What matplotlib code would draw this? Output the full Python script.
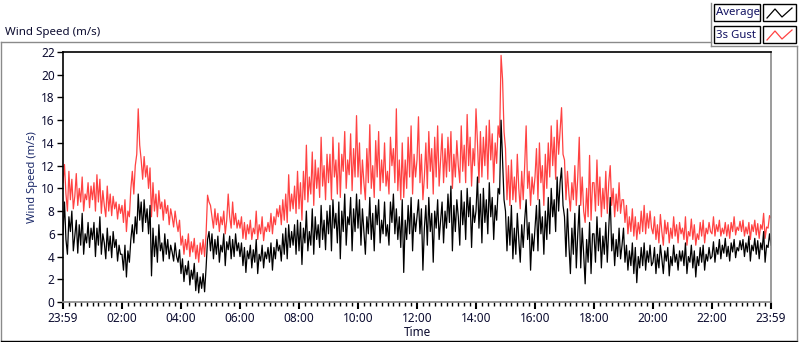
"""
Daily wind speed chart: average and 3 s gust, one sample every 3 minutes.
"""

import matplotlib

matplotlib.use("Agg")
import matplotlib.pyplot as plt
from matplotlib.lines import Line2D
from matplotlib.patches import Rectangle
import numpy as np

STEP_MIN = 3

AVERAGE = [
    6.0, 8.8, 5.5, 4.2, 7.5, 6.2, 8.0, 4.5, 5.8, 7.2,
    4.3, 6.8, 5.0, 7.8, 4.2, 6.0, 5.2, 7.0, 4.8, 6.5,
    5.5, 7.0, 4.0, 6.5, 5.0, 7.5, 4.2, 6.0, 5.2, 3.8,
    6.5, 4.5, 5.8, 3.9, 6.2, 4.8, 5.5, 3.6, 5.0, 4.2,
    4.2, 2.8, 5.0, 2.2, 4.5, 3.5, 5.5, 6.8, 5.2, 7.5,
    6.0, 9.5, 7.2, 8.8, 6.2, 9.0, 7.0, 8.2, 6.0, 8.5,
    2.3, 6.5, 4.0, 5.8, 3.5, 6.8, 4.5, 5.2, 3.6, 6.0,
    4.2, 5.5, 3.8, 5.0, 4.4, 3.6, 5.2, 4.0, 3.5, 4.6,
    2.5, 3.8, 1.8, 3.2, 2.4, 3.6, 1.5, 2.8, 2.0, 3.4,
    1.0, 2.6, 0.8, 2.2, 1.2, 2.5, 0.9, 3.0, 5.5, 6.2,
    4.5, 6.0, 3.8, 5.5, 4.2, 5.8, 3.5, 5.0, 4.4, 6.0,
    3.2, 5.3, 4.6, 5.8, 3.8, 5.5, 4.0, 6.0, 4.5, 5.2,
    4.0, 5.2, 3.2, 4.8, 2.6, 4.5, 3.8, 5.0, 3.0, 4.6,
    3.5, 5.5, 2.5, 4.2, 3.6, 5.0, 3.0, 4.4, 3.8, 4.8,
    3.5, 5.2, 2.8, 4.8, 3.8, 5.5, 4.5, 5.0, 3.6, 6.0,
    4.2, 6.5, 3.8, 6.8, 4.8, 6.2, 5.0, 6.8, 4.2, 7.2,
    4.5, 7.0, 3.3, 6.5, 5.2, 8.0, 4.5, 6.2, 5.0, 8.2,
    4.2, 7.5, 5.5, 6.8, 4.8, 8.5, 5.5, 7.2, 4.6, 8.0,
    6.0, 8.5, 4.5, 9.0, 6.5, 7.8, 5.2, 8.8, 3.8, 8.0,
    6.2, 9.5, 5.0, 7.5, 6.8, 9.2, 4.5, 8.2, 6.2, 9.5,
    6.5, 9.0, 5.0, 8.2, 6.2, 4.2, 7.5, 6.0, 9.2, 5.5,
    7.8, 4.5, 8.5, 6.8, 9.0, 5.2, 7.2, 6.0, 8.8, 5.8,
    6.8, 5.0, 8.8, 7.0, 9.5, 6.0, 8.2, 5.5, 7.5, 4.8,
    9.0, 2.6, 7.2, 5.5, 8.5, 6.0, 9.2, 4.5, 7.8, 6.2,
    7.5, 9.0, 6.0, 8.2, 2.8, 6.5, 8.5, 5.0, 9.2, 6.2,
    7.8, 3.5, 8.0, 6.5, 9.0, 5.5, 7.2, 8.8, 5.2, 8.0,
    6.5, 9.5, 7.0, 10.2, 4.5, 8.5, 6.2, 9.0, 7.5, 5.0,
    9.8, 6.8, 8.8, 5.5, 10.0, 7.5, 9.2, 4.8, 8.5, 7.0,
    8.0, 11.0, 6.5, 9.5, 5.2, 10.0, 7.0, 9.0, 6.0, 10.5,
    7.5, 9.2, 5.5, 8.5, 7.2, 10.0, 9.5, 16.0, 12.5, 9.0,
    8.0, 4.5, 7.5, 5.0, 8.5, 3.8, 6.5, 4.2, 7.8, 5.5,
    3.5, 6.8, 4.8, 7.2, 9.0, 5.5, 7.0, 2.8, 6.0, 4.5,
    6.5, 8.5, 4.5, 9.0, 6.0, 7.5, 4.2, 8.0, 5.5, 9.2,
    6.0, 10.0, 7.5, 9.0, 6.2, 11.0, 8.0, 10.5, 11.8, 8.5,
    7.5, 4.0, 8.2, 5.0, 2.5, 6.5, 4.2, 7.8, 3.0, 6.0,
    8.5, 3.0, 6.5, 4.2, 1.6, 5.5, 3.5, 7.0, 2.5, 6.0,
    6.0, 3.5, 7.5, 4.5, 6.5, 3.0, 5.8, 4.2, 7.0, 3.5,
    6.5, 9.2, 4.5, 6.0, 3.2, 5.5, 4.0, 6.5, 3.8, 5.0,
    6.5, 3.5, 5.0, 2.8, 4.5, 3.2, 5.2, 2.5, 4.8, 1.7,
    4.0, 3.0, 4.8, 3.2, 5.2, 2.8, 4.5, 3.5, 5.0, 3.2,
    3.5, 4.8, 2.5, 4.2, 3.0, 5.0, 3.8, 2.5, 4.5, 3.6,
    4.8, 2.3, 4.0, 3.2, 5.0, 3.5, 4.2, 2.8, 4.5, 3.6,
    4.5, 3.2, 5.2, 2.5, 4.0, 3.5, 5.0, 3.0, 4.5, 2.2,
    4.0, 3.2, 4.8, 3.5, 5.0, 2.8, 4.2, 3.6, 4.8, 3.8,
    4.0, 5.3, 3.5, 4.8, 4.2, 5.5, 3.8, 5.0, 4.3, 5.6,
    4.0, 4.9, 3.6, 5.2, 4.4, 5.5, 3.9, 4.8, 4.5, 5.4,
    4.6, 5.5, 4.0, 5.2, 4.4, 5.8, 3.6, 5.0, 4.5, 5.6,
    4.2, 5.4, 3.8, 5.2, 4.6, 6.2, 3.5, 5.0, 4.8, 6.0,
    5.0,
]

GUST = [
    10.5, 12.1, 9.5, 8.0, 11.5, 9.0, 10.8, 8.2, 9.3, 11.3,
    8.5, 10.0, 8.8, 11.0, 8.0, 9.5, 9.0, 10.5, 8.3, 10.2,
    9.0, 10.5, 8.0, 11.2, 8.8, 10.8, 7.8, 9.8, 8.5, 7.5,
    10.2, 8.0, 9.5, 7.6, 9.3, 8.2, 8.8, 7.3, 8.6, 7.8,
    8.5, 7.0, 9.0, 6.2, 8.0, 7.5, 10.0, 11.5, 9.5, 12.0,
    13.0, 17.0, 13.8, 12.5, 10.8, 12.8, 11.0, 12.0, 10.0, 11.8,
    7.5, 10.5, 8.0, 9.5, 7.5, 9.8, 8.2, 8.8, 7.2, 9.0,
    7.8, 8.5, 6.8, 8.2, 7.5, 6.6, 8.0, 7.0, 6.2, 7.2,
    5.0, 5.8, 4.2, 5.5, 4.6, 6.0, 4.0, 5.3, 4.4, 5.6,
    3.8, 5.0, 3.5, 5.2, 4.2, 5.5, 4.0, 6.0, 9.4, 8.8,
    8.5, 7.5, 6.5, 8.2, 6.8, 7.8, 6.2, 7.5, 6.8, 8.0,
    6.0, 7.2, 9.5, 7.5, 6.5, 8.8, 6.8, 7.8, 6.5, 7.2,
    6.5, 7.5, 5.6, 7.0, 5.5, 6.8, 6.0, 7.2, 5.5, 6.5,
    6.0, 8.0, 5.5, 6.8, 6.0, 7.5, 5.4, 6.6, 6.2, 7.0,
    6.2, 7.8, 6.0, 7.5, 6.8, 8.2, 7.5, 8.5, 6.8, 9.0,
    7.2, 9.5, 7.0, 11.2, 8.0, 9.5, 8.2, 10.2, 7.8, 11.5,
    8.2, 10.5, 7.2, 11.5, 9.0, 13.8, 8.8, 11.0, 9.5, 13.2,
    8.5, 12.5, 10.0, 11.8, 9.2, 14.5, 10.2, 12.0, 9.0, 13.0,
    10.5, 13.0, 9.0, 14.5, 11.0, 12.5, 9.5, 14.0, 9.2, 13.0,
    11.5, 15.0, 10.0, 12.5, 11.2, 14.8, 9.8, 13.5, 11.0, 16.4,
    11.0, 14.0, 9.5, 12.5, 10.5, 9.0, 13.5, 10.5, 15.6, 10.0,
    12.0, 9.2, 14.2, 11.0, 15.0, 9.8, 12.5, 10.5, 14.0, 10.2,
    11.5, 9.5, 14.5, 12.0, 13.5, 10.5, 17.0, 9.8, 12.5, 9.0,
    14.0, 9.2, 12.5, 10.0, 14.5, 11.0, 15.5, 9.5, 13.0, 11.0,
    12.5, 16.3, 10.5, 13.0, 9.0, 11.0, 14.0, 10.0, 15.0, 11.5,
    13.5, 9.5, 14.5, 11.0, 15.5, 10.2, 12.5, 14.8, 10.5, 13.5,
    11.0, 14.5, 11.5, 15.0, 10.0, 13.0, 11.0, 14.2, 12.0, 10.5,
    15.5, 11.5, 13.8, 10.5, 16.5, 12.0, 14.5, 10.2, 13.5, 12.0,
    17.0, 14.0, 10.5, 15.0, 11.0, 14.5, 12.0, 15.5, 10.8, 16.0,
    12.5, 14.8, 10.5, 14.0, 12.2, 15.5, 14.5, 21.7, 19.6, 15.0,
    13.5, 9.0, 12.0, 8.5, 12.5, 9.0, 11.0, 8.8, 13.0, 10.0,
    8.2, 11.5, 9.0, 12.0, 15.5, 10.0, 11.5, 8.5, 11.0, 9.5,
    11.0, 13.5, 9.0, 14.0, 10.5, 12.0, 8.5, 13.0, 10.0, 14.0,
    11.0, 15.5, 12.0, 14.5, 10.8, 16.0, 13.0, 15.0, 17.1, 13.0,
    12.5, 9.0, 11.5, 9.5, 8.0, 10.5, 9.0, 12.0, 8.5, 11.0,
    14.5, 8.5, 11.0, 8.0, 7.0, 10.0, 7.5, 12.9, 7.2, 10.5,
    10.5, 8.0, 12.5, 8.5, 11.0, 7.5, 10.0, 8.2, 11.5, 7.8,
    10.5, 12.0, 8.5, 10.0, 7.5, 9.5, 8.0, 10.5, 7.8, 9.0,
    9.0, 7.0, 8.5, 6.0, 7.5, 6.2, 8.2, 5.8, 7.5, 5.5,
    7.0, 6.0, 8.0, 6.2, 8.5, 6.0, 7.8, 6.5, 8.0, 6.5,
    6.0, 7.5, 5.5, 6.8, 5.2, 7.7, 6.2, 5.0, 7.2, 6.0,
    7.0, 5.2, 6.5, 5.6, 7.5, 5.8, 6.8, 5.2, 7.0, 6.0,
    6.5, 5.5, 7.5, 5.0, 6.2, 5.8, 7.3, 5.5, 6.8, 5.0,
    6.0, 5.5, 7.0, 5.8, 7.2, 5.2, 6.5, 6.0, 7.0, 6.2,
    6.0, 7.5, 5.8, 6.8, 6.2, 7.2, 5.8, 6.5, 6.0, 7.0,
    5.8, 6.8, 5.6, 7.0, 6.2, 7.5, 5.9, 6.6, 6.3, 7.1,
    6.2, 7.2, 5.8, 6.6, 6.0, 7.0, 5.5, 6.8, 6.2, 7.2,
    5.9, 6.9, 5.6, 6.8, 6.4, 7.8, 5.6, 6.6, 6.5, 7.6,
    7.4,
]

Y_TICKS = list(range(0, 23, 2))
X_TICK_HOURS = list(range(0, 25, 2))
X_TICK_LABELS = ["23:59", "02:00", "04:00", "06:00", "08:00", "10:00", "12:00",
                 "14:00", "16:00", "18:00", "20:00", "22:00", "23:59"]

W, H = 800, 342
TEXT_COLOR = "#0c0c30"
GUST_COLOR = "#ff4242"

plt.rcParams["font.family"] = ["Noto Sans", "DejaVu Sans"]


def fx(px: float) -> float:
    return px / W


def fy(py: float) -> float:
    return 1 - py / H


def main() -> None:
    fig = plt.figure(figsize=(W / 100, H / 100), dpi=100)
    ax = fig.add_axes([fx(63), fy(302), fx(771) - fx(63), fy(52) - fy(302)])

    gust_hours = np.arange(len(GUST)) * STEP_MIN / 60.0
    avg_hours = np.arange(len(AVERAGE)) * STEP_MIN / 60.0
    ax.plot(gust_hours, GUST, color=GUST_COLOR, lw=0.9)
    ax.plot(avg_hours, AVERAGE, color="black", lw=0.9)

    ax.set_xlim(0, 24)
    ax.set_ylim(0, 22)
    ax.set_yticks(Y_TICKS)
    ax.set_xticks(X_TICK_HOURS)
    ax.set_xticklabels(X_TICK_LABELS)
    ax.set_xticks(np.arange(0, 24.01, 0.2), minor=True)
    ax.tick_params(axis="both", labelsize=8.5, colors=TEXT_COLOR, direction="out")
    ax.tick_params(axis="x", which="major", length=5, width=1.5, color="black", pad=2)
    ax.tick_params(axis="x", which="minor", length=3, width=1, color="black")
    ax.tick_params(axis="y", which="major", length=4, width=1, color="black", pad=2)

    for side in ("top", "left"):
        ax.spines[side].set_color("black")
    for side in ("right", "bottom"):
        ax.spines[side].set_color("#8a8a8a")
    for sp in ax.spines.values():
        sp.set_linewidth(1.2)

    ax.set_ylabel("Wind Speed (m/s)", fontsize=8, color="#1c2a6a", labelpad=2)
    ax.set_xlabel("Time", fontsize=8.5, color=TEXT_COLOR, labelpad=1)

    # outer panel frame
    fig.add_artist(Line2D([fx(1), fx(711)], [fy(42), fy(42)], color="#8a8a8a", lw=1))
    fig.add_artist(Line2D([fx(1), fx(1)], [fy(42), fy(340)], color="#8a8a8a", lw=1))
    fig.add_artist(Line2D([fx(1), fx(797)], [fy(340.5), fy(340.5)], color="black", lw=1))
    fig.add_artist(Line2D([fx(797), fx(797)], [fy(46), fy(340)], color="#8a8a8a", lw=1))
    fig.text(fx(5), fy(32), "Wind Speed (m/s)", fontsize=8.3, color=TEXT_COLOR, va="center")

    # legend panel
    fig.add_artist(Line2D([fx(711), fx(711)], [fy(3), fy(46)], color="#8a8a8a", lw=1))
    fig.add_artist(Line2D([fx(711), fx(797)], [fy(46), fy(46)], color="#8a8a8a", lw=1))
    for row, (name, color) in enumerate([("Average", "black"), ("3s Gust", GUST_COLOR)]):
        top = 4 + row * 22
        fig.add_artist(Rectangle((fx(714), fy(top + 17)), fx(46), fy(0) - fy(17),
                                 facecolor="white", edgecolor="black", lw=1))
        fig.add_artist(Rectangle((fx(763), fy(top + 17)), fx(33), fy(0) - fy(17),
                                 facecolor="white", edgecolor="black", lw=1))
        fig.text(fx(716), fy(top + 9), name, fontsize=8.2, color="#101060", va="center")
        icon_x = [fx(767), fx(775), fx(782), fx(792)]
        icon_y = [fy(top + 14), fy(top + 5), fy(top + 13), fy(top + 4)]
        fig.add_artist(Line2D(icon_x, icon_y, color=color, lw=0.9))

    fig.savefig("out.png", dpi=100)
    plt.close(fig)


if __name__ == "__main__":
    main()
